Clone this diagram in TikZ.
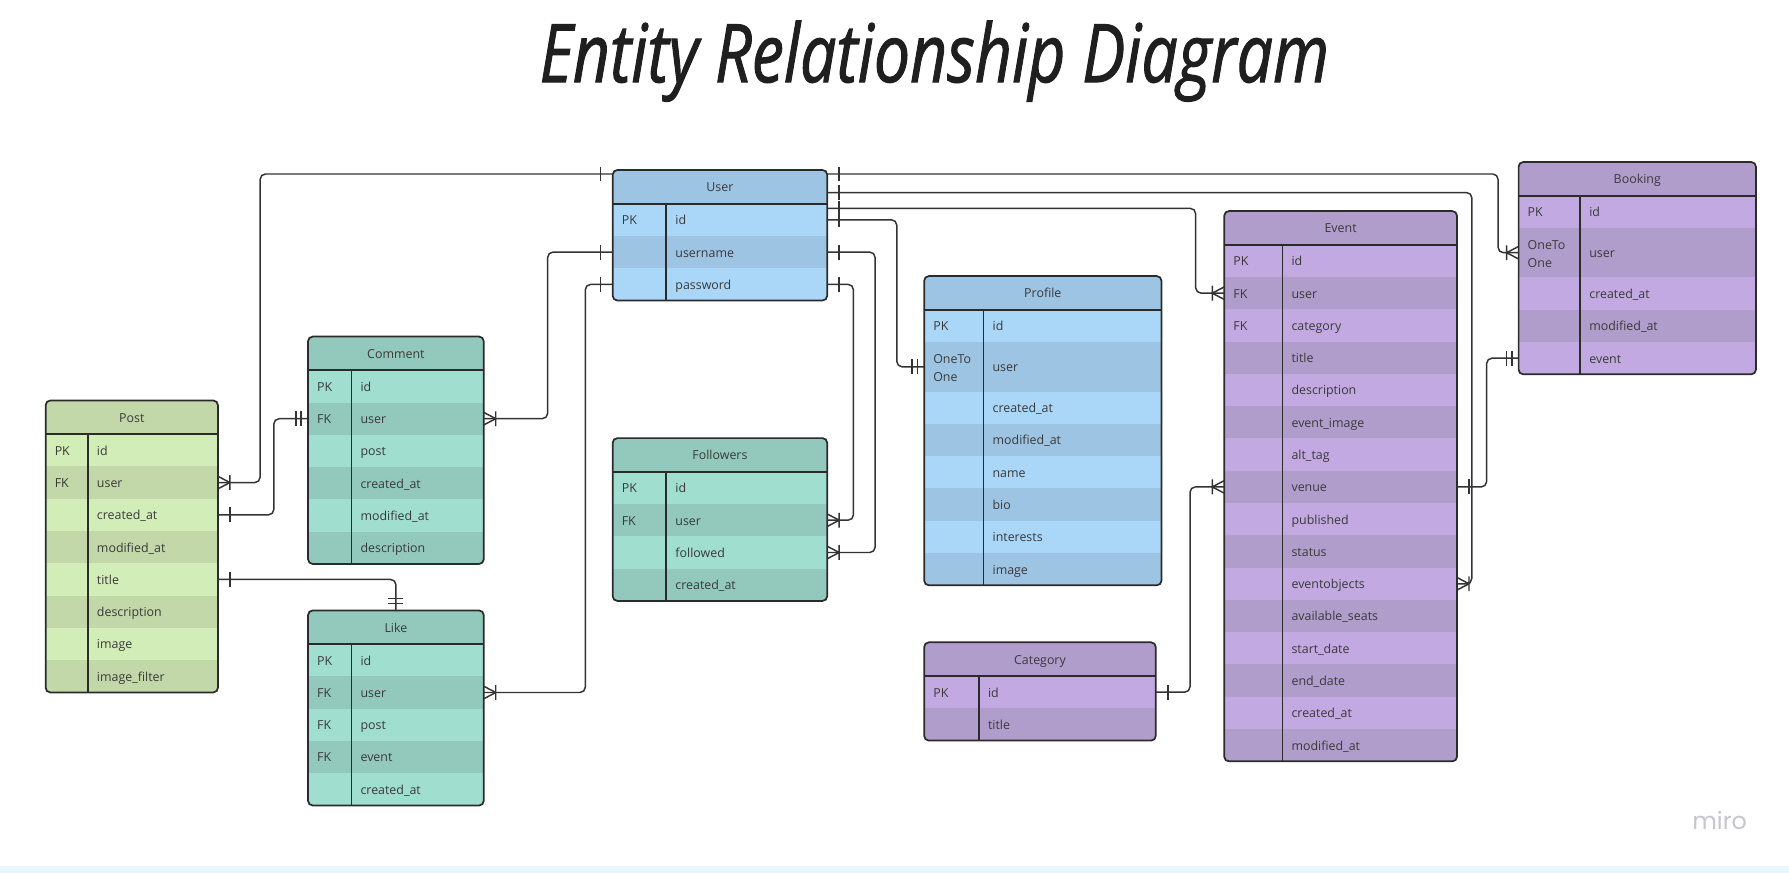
\documentclass[tikz,border=0pt]{standalone}
\usepackage{fontspec}
\usepackage{graphicx}
\setmainfont{Open Sans}
\newfontfamily\erTitleFont{Open Sans}[FakeBold=1.4]
\newfontfamily\miroFont{Poppins}
\usetikzlibrary{calc}
\definecolor{greenL}{HTML}{D3EDB9}
\definecolor{greenD}{HTML}{C2D8A8}
\definecolor{tealL}{HTML}{A0DED0}
\definecolor{tealD}{HTML}{93C9BD}
\definecolor{blueL}{HTML}{AAD7F8}
\definecolor{blueD}{HTML}{9EC4E3}
\definecolor{purpL}{HTML}{C3A9E1}
\definecolor{purpD}{HTML}{B19DCC}
\definecolor{erLine}{HTML}{333333}
\definecolor{erText}{HTML}{3A3A3A}
\definecolor{miroC}{HTML}{C6C6CE}
\definecolor{stripC}{HTML}{E9F6FD}
\def\erU{0.8557pt}
\def\oto{\smash{\renewcommand\arraystretch{1.25}\begin{tabular}{@{}l@{}}OneTo\\One\end{tabular}}}
\tikzset{
  erl/.style={draw=erLine, line width=1.1pt},
  conn/.style={draw=erLine, line width=1.1pt, rounded corners=4pt},
  erbox/.style={draw=erLine!85!black, line width=1.3pt},
  errow/.style={rectangle, inner sep=0pt, outer sep=0pt, draw=none},
  erhead/.style={rectangle, inner sep=0pt, outer sep=0pt, draw=none, minimum height={29.5*\erU}},
  ertext/.style={inner sep=0pt, outer sep=0pt, text=erText, font=\fontsize{9.3pt}{11.2pt}\selectfont,
    text height=7pt, text depth=2.2pt},
  manyR/.pic={\draw[erl] (0,-5.5)--(10.5,0)--(0,5.5) (10.5,-6.5)--(10.5,6.5);},
  manyL/.pic={\draw[erl] (0,-5.5)--(-10.5,0)--(0,5.5) (-10.5,-6.5)--(-10.5,6.5);},
  oneR/.pic={\draw[erl] (10.5,-6.5)--(10.5,6.5);},
  oneL/.pic={\draw[erl] (-10.5,-6.5)--(-10.5,6.5);},
  twoL/.pic={\draw[erl] (-6,-6.5)--(-6,6.5) (-10.5,-6.5)--(-10.5,6.5);},
  twoU/.pic={\draw[erl] (-6.5,-6)--(6.5,-6) (-6.5,-10.5)--(6.5,-10.5);},
}
% name, x, y, width, key width, light, dark, title, rows
\newcommand\ertable[9]{%
  \xdef\erH{29.5}%
  \foreach \k/\f/\n/\h in {#9}{\pgfmathsetmacro\erT{\erH+28.3*\h}\xdef\erH{\erT}}%
  \begin{scope}
    \clip[rounded corners=3.5pt] (#2,#3) rectangle ++(#4,\erH);
    \node[erhead, fill=#7, minimum width={#4*\erU}, anchor=north west] (#1-head) at (#2,#3) {};
    \node[ertext] (#1-title) at (#2+#4/2,#3+16.2) {#8};
    \pgfmathsetmacro\erT{#3+29.5}\xdef\erY{\erT}%
    \foreach \k/\f/\n/\h [count=\i] in {#9}{%
      \ifodd\i \def\erC{#6}\else\def\erC{#7}\fi
      \node[errow, fill=\erC, minimum width={#4*\erU}, minimum height={28.3*\h*\erU}, anchor=north west] (#1-\n) at (#2,\erY) {};
      \pgfmathsetmacro\erM{\erY+14.15*\h+1.5}%
      \edef\erK{\detokenize\expandafter{\k}}%
      \ifx\erK\empty\else \node[ertext, anchor=west] (#1-\n-k) at (#2+8,\erM) {\k};\fi
      \node[ertext, anchor=west] (#1-\n-f) at (#2+#5+8,\erM) {\f};
      \pgfmathsetmacro\erT{\erY+28.3*\h}\xdef\erY{\erT}%
    }
  \end{scope}
  \draw[erbox] (#2+#5,#3+29.5) -- (#2+#5,#3+\erH);
  \draw[erbox] (#2,#3+29.5) -- (#2+#4,#3+29.5);
  \draw[erbox, rounded corners=3.5pt] (#2,#3) rectangle ++(#4,\erH);
}
\begin{document}
\begin{tikzpicture}[x=0.8557pt, y=-0.8557pt]
\useasboundingbox (0,0) rectangle (1568,765);
\fill[white] (0,0) rectangle (1568,765);
\fill[stripC] (0,759) rectangle (1568,765);

% title
\node[anchor=base, inner sep=0pt, text=black!88] (title) at (819,72)
  {\resizebox{592pt}{46pt}{\erTitleFont\itshape Entity Relationship Diagram}};
% logo
\node[anchor=base west, inner sep=0pt, text=miroC] (miro) at (1483,727)
  {\resizebox{41pt}{!}{\miroFont miro}};

% tables
\ertable{User}{537}{149}{188}{47}{blueL}{blueD}{User}
  {PK/id/id/1, /username/username/1, /password/password/1}
\ertable{Comment}{270}{295}{154}{38}{tealL}{tealD}{Comment}
  {PK/id/id/1, FK/user/user/1, /post/post/1, /created\_at/created/1, /modified\_at/modified/1, /description/description/1}
\ertable{Post}{40}{351}{151}{37}{greenL}{greenD}{Post}
  {PK/id/id/1, FK/user/user/1, /created\_at/created/1, /modified\_at/modified/1, /title/title/1, /description/description/1, /image/image/1, /image\_filter/imagefilter/1}
\ertable{Like}{270}{535}{154}{38}{tealL}{tealD}{Like}
  {PK/id/id/1, FK/user/user/1, FK/post/post/1, FK/event/event/1, /created\_at/created/1}
\ertable{Followers}{537}{384}{188}{47}{tealL}{tealD}{Followers}
  {PK/id/id/1, FK/user/user/1, /followed/followed/1, /created\_at/created/1}
\ertable{Profile}{810}{242}{208}{52}{blueL}{blueD}{Profile}
  {PK/id/id/1, \oto/user/user/1.533, /created\_at/created/1, /modified\_at/modified/1, /name/name/1, /bio/bio/1, /interests/interests/1, /image/image/1}
\ertable{Category}{810}{563}{203}{48}{purpL}{purpD}{Category}
  {PK/id/id/1, /title/title/1}
\ertable{Event}{1073}{185}{204}{51}{purpL}{purpD}{Event}
  {PK/id/id/1, FK/user/user/1, FK/category/category/1, /title/title/1, /description/description/1, /event\_image/eventimage/1, /alt\_tag/alttag/1, /venue/venue/1, /published/published/1, /status/status/1, /eventobjects/eventobjects/1, /available\_seats/seats/1, /start\_date/start/1, /end\_date/end/1, /created\_at/created/1, /modified\_at/modified/1}
\ertable{Booking}{1331}{142}{208}{54}{purpL}{purpD}{Booking}
  {PK/id/id/1, \oto/user/user/1.533, /created\_at/created/1, /modified\_at/modified/1, /event/event/1}

% connectors
% Post.user -> User
\draw[conn] (Post-user.east) -- ++(37,0) |- ($(User-head.west)+(0,-11.25)$);
\pic at (Post-user.east) {manyR};
\pic at ($(User-head.west)+(0,-11.25)$) {oneL};
% Post.created_at -> Comment.user
\draw[conn] (Post-created.east) -- ++(49,0) |- (Comment-user.west);
\pic at (Post-created.east) {oneR};
\pic at (Comment-user.west) {twoL};
% Post.title -> Like
\draw[conn] (Post-title.east) -| (Like-head.north);
\pic at (Post-title.east) {oneR};
\pic at (Like-head.north) {twoU};
% Comment.user -> User.username
\draw[conn] (Comment-user.east) -- ++(56,0) |- (User-username.west);
\pic at (Comment-user.east) {manyR};
\pic at (User-username.west) {oneL};
% Like.user -> User.password
\draw[conn] (Like-user.east) -- ++(89,0) |- (User-password.west);
\pic at (Like-user.east) {manyR};
\pic at (User-password.west) {oneL};
% User.username -> Followers.followed
\draw[conn] (User-username.east) -- ++(42,0) |- (Followers-followed.east);
\pic at (User-username.east) {oneR};
\pic at (Followers-followed.east) {manyR};
% User.password -> Followers.user
\draw[conn] (User-password.east) -- ++(23,0) |- (Followers-user.east);
\pic at (User-password.east) {oneR};
\pic at (Followers-user.east) {manyR};
% User.id -> Profile.user
\draw[conn] (User-id.east) -- ++(61,0) |- (Profile-user.west);
\pic at (User-id.east) {oneR};
\pic at (Profile-user.west) {twoL};
% User -> Event.user
\draw[conn] ($(User-id.east)+(0,-10)$) -- ++(323,0) |- (Event-user.west);
\pic at ($(User-id.east)+(0,-10)$) {oneR};
\pic at (Event-user.west) {manyL};
% User -> Event.eventobjects
\draw[conn] ($(User-head.east)+(0,5)$) -- ++(565,0) |- (Event-eventobjects.east);
\pic at ($(User-head.east)+(0,5)$) {oneR};
\pic at (Event-eventobjects.east) {manyR};
% User -> Booking.user
\draw[conn] ($(User-head.east)+(0,-11.25)$) -- ++(588,0) |- (Booking-user.west);
\pic at ($(User-head.east)+(0,-11.25)$) {oneR};
\pic at (Booking-user.west) {manyL};
% Category.id -> Event.venue
\draw[conn] (Category-id.east) -- ++(30,0) |- (Event-venue.west);
\pic at (Category-id.east) {oneR};
\pic at (Event-venue.west) {manyL};
% Event.venue -> Booking.event
\draw[conn] (Event-venue.east) -- ++(26,0) |- (Booking-event.west);
\pic at (Event-venue.east) {oneR};
\pic at (Booking-event.west) {twoL};
\end{tikzpicture}
\end{document}
